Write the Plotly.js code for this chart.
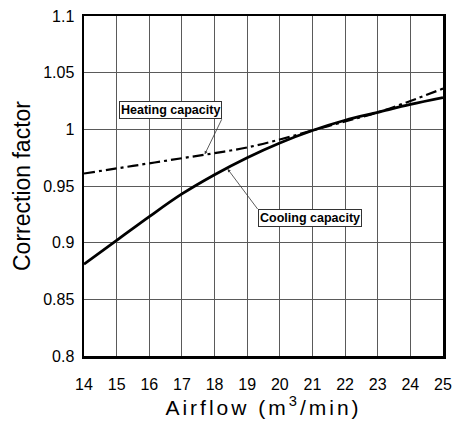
<!DOCTYPE html>
<html><head><meta charset="utf-8">
<script src="https://cdn.plot.ly/plotly-3.0.1.min.js"></script>
<style>html,body{margin:0;padding:0;background:#fff}#c{width:455px;height:426px}
.xtitle{letter-spacing:3px}
</style>
</head><body><div id="c"></div>
<script>
const airflow = [14, 15, 16, 17, 18, 19, 20, 21, 22, 23, 24, 25];
const cooling = [0.881, 0.902, 0.923, 0.943, 0.960, 0.975, 0.988, 0.999, 1.008, 1.015, 1.022, 1.028];
const heating = [0.961, 0.9655, 0.970, 0.9745, 0.979, 0.984, 0.991, 0.999, 1.007, 1.015, 1.025, 1.036];
const xTicks = [14, 15, 16, 17, 18, 19, 20, 21, 22, 23, 24, 25];
const yTicks = [0.8, 0.85, 0.9, 0.95, 1, 1.05, 1.1];
const yTickText = ['0.8', '0.85', '0.9', '0.95', '1', '1.05', '1.1'];

const traces = [
  {x: airflow, y: cooling, mode: 'lines', line: {color: '#000', width: 2.8, shape: 'spline', smoothing: 1}, name: 'Cooling capacity'},
  {x: airflow, y: heating, mode: 'lines', line: {color: '#000', width: 2.2, dash: '11px,4px,3px,4px', shape: 'spline', smoothing: 1}, name: 'Heating capacity'}
];
const fam = 'Liberation Sans, Arial, sans-serif';
const layout = {
  width: 455, height: 426,
  margin: {l: 84, r: 12, t: 16, b: 70},
  paper_bgcolor: '#fff', plot_bgcolor: '#fff',
  showlegend: false,
  font: {family: fam, color: '#000'},
  xaxis: {
    range: [14, 25], tickvals: xTicks, ticks: '', ticklabelstandoff: 12, showgrid: true, gridcolor: '#5a5a5a', gridwidth: 1,
    showline: true, linecolor: '#000', linewidth: 2.5, mirror: true, zeroline: false,
    tickfont: {size: 16, family: fam, color: '#000'},
    title: {text: 'Airflow (m<sup>3</sup>/min)', font: {size: 21, family: fam, color: '#000'}, standoff: 6}
  },
  yaxis: {
    range: [0.8, 1.1], tickvals: yTicks, ticktext: yTickText, ticks: '', ticklabelstandoff: 4, showgrid: true, gridcolor: '#5a5a5a', gridwidth: 1,
    showline: true, linecolor: '#000', linewidth: 2.5, mirror: true, zeroline: false,
    tickfont: {size: 16, family: fam, color: '#000'},
    title: {text: 'Correction factor', font: {size: 23, family: fam, color: '#000'}, standoff: 6}
  },
  annotations: [
    {x: 17.7, y: 0.978, ax: 17, ay: -35, axref: 'pixel', ayref: 'pixel', xanchor: 'right', yanchor: 'bottom',
     text: '<b>Heating capacity</b>',
     showarrow: true, arrowhead: 2, arrowsize: 0.8, arrowwidth: 0.8, arrowcolor: '#333',
     font: {size: 12.5, family: fam, color: '#000'}, bgcolor: '#fff', bordercolor: '#333', borderwidth: 1, borderpad: 1},
    {x: 18.4, y: 0.965, ax: 30, ay: 40, axref: 'pixel', ayref: 'pixel', xanchor: 'left', yanchor: 'top',
     text: '<b>Cooling capacity</b>',
     showarrow: true, arrowhead: 2, arrowsize: 0.8, arrowwidth: 0.8, arrowcolor: '#333',
     font: {size: 12.5, family: fam, color: '#000'}, bgcolor: '#fff', bordercolor: '#333', borderwidth: 1, borderpad: 1}
  ]
};
Plotly.newPlot('c', traces, layout, {displayModeBar: false, staticPlot: true});
</script></body></html>
